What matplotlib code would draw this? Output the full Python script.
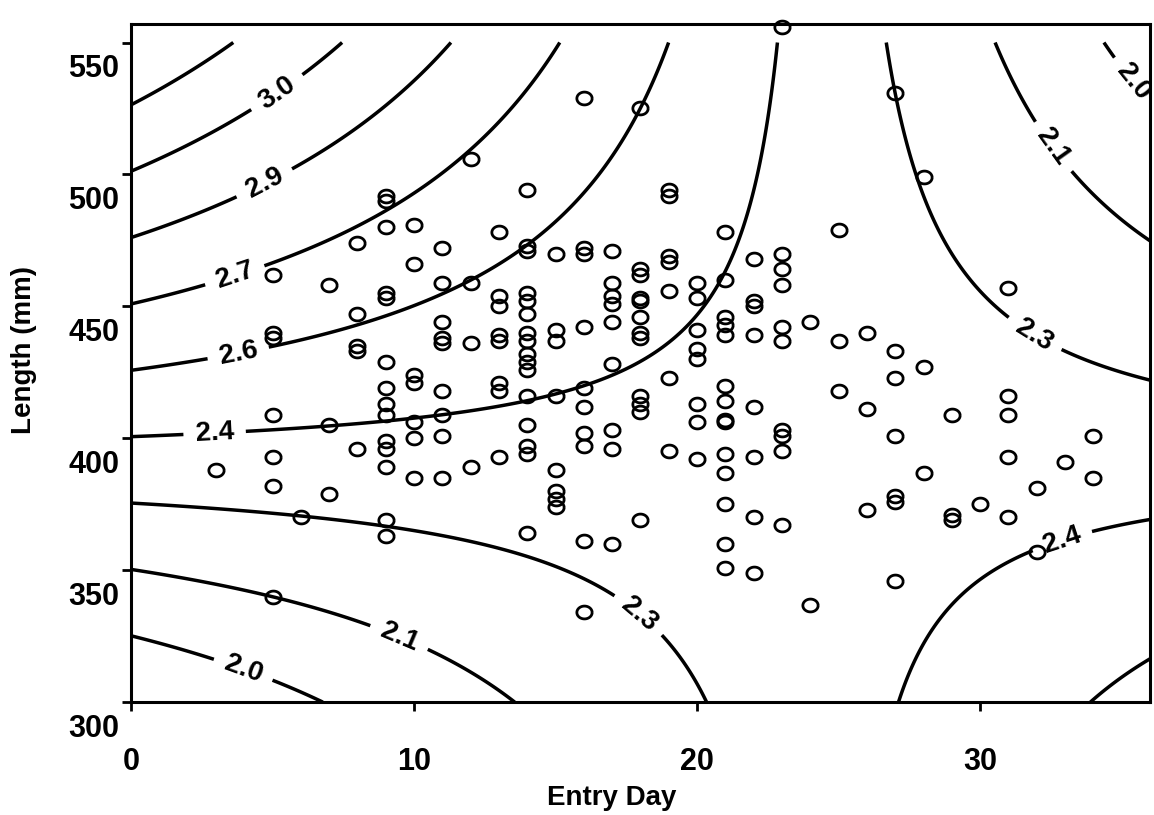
import numpy as np
import matplotlib
matplotlib.use("Agg")
import matplotlib.pyplot as plt
from matplotlib.path import Path
from matplotlib.transforms import ScaledTranslation

plt.rcParams["font.family"] = ["Liberation Sans", "DejaVu Sans"]

# Fitted response surface: index = f(entry day, length)
INTERCEPT = 1.855
DAY_COEF = 0.02139
LENGTH_COEF = 0.005765        # per mm above the reference length
INTERACTION_COEF = -0.0002364
LENGTH_REF = 300.0

contour_levels = [2.0, 2.145, 2.29, 2.435, 2.58, 2.725, 2.87, 3.015, 3.16]
labelled_levels = [2.0, 2.145, 2.29, 2.435, 2.58, 2.725, 2.87, 3.015]

# Where the inline contour labels sit (day, length)
label_days = [5.5, 5.0, 3.85, 3.85, 2.97, 35.4, 32.65, 31.9, 33.0, 17.6, 9.33, 3.85]
label_lengths = [526, 491, 456, 429, 399, 535, 511, 439, 358, 329, 321, 309]

# Individual fish: entry day and length (mm)
entry_day = [
    3,
    5, 5, 5, 5, 5, 5, 5,
    6,
    7, 7, 7,
    8, 8, 8, 8, 8,
    9, 9, 9, 9, 9, 9, 9, 9, 9, 9, 9, 9, 9, 9,
    10, 10, 10, 10, 10, 10, 10,
    11, 11, 11, 11, 11, 11, 11, 11, 11,
    12, 12, 12, 12,
    13, 13, 13, 13, 13, 13, 13, 13,
    14, 14, 14, 14, 14, 14, 14, 14, 14, 14, 14, 14, 14, 14, 14, 14,
    15, 15, 15, 15, 15, 15, 15, 15,
    16, 16, 16, 16, 16, 16, 16, 16, 16, 16,
    17, 17, 17, 17, 17, 17, 17, 17, 17,
    18, 18, 18, 18, 18, 18, 18, 18, 18, 18, 18, 18,
    19, 19, 19, 19, 19, 19, 19,
    20, 20, 20, 20, 20, 20, 20, 20,
    21, 21, 21, 21, 21, 21, 21, 21, 21, 21, 21, 21, 21, 21,
    22, 22, 22, 22, 22, 22, 22, 22,
    23, 23, 23, 23, 23, 23, 23, 23, 23, 23,
    24, 24,
    25, 25, 25,
    26, 26, 26,
    27, 27, 27, 27, 27, 27, 27,
    28, 28, 28,
    29, 29, 29,
    30,
    31, 31, 31, 31, 31,
    32, 32,
    33,
    34, 34,
]
length_mm = [
    388,
    462, 440, 438, 409, 393, 382, 340,
    370,
    458, 405, 379,
    474, 447, 435, 433, 396,
    492, 490, 480, 455, 453, 429, 419, 413, 409, 399, 396, 389, 369, 363,
    481, 466, 424, 421, 406, 400, 385,
    472, 459, 444, 438, 436, 418, 409, 401, 385,
    506, 459, 436, 389,
    478, 454, 450, 439, 437, 421, 418, 393,
    494, 473, 471, 455, 452, 447, 440, 437, 432, 429, 426, 416, 405, 397, 394, 364,
    470, 441, 437, 416, 388, 380, 377, 374,
    529, 472, 470, 442, 419, 412, 402, 397, 361, 334,
    471, 459, 454, 451, 444, 428, 403, 396, 360,
    525, 464, 462, 453, 452, 446, 440, 438, 416, 413, 410, 369,
    494, 492, 469, 467, 456, 423, 395,
    459, 453, 441, 434, 430, 413, 406, 392,
    478, 460, 446, 443, 439, 420, 414, 407, 406, 394, 387, 375, 360, 351,
    468, 452, 450, 439, 412, 393, 370, 349,
    556, 470, 464, 458, 442, 437, 403, 401, 395, 367,
    444, 337,
    479, 437, 418,
    440, 411, 373,
    531, 433, 423, 401, 378, 376, 346,
    499, 427, 387,
    409, 371, 369,
    375,
    457, 416, 409, 393, 370,
    381, 357,
    391,
    401, 385,
]

x_ticks = [0, 10, 20, 30]
y_ticks = [300, 350, 400, 450, 500, 550]

fig = plt.figure(figsize=(11.54, 8.15), dpi=100)
ax = fig.add_axes([0.1135, 0.1385, 0.883, 0.832])

# Response surface evaluated over the design region
day_grid, len_grid = np.meshgrid(np.linspace(0, 36, 300), np.linspace(300, 550, 300))
dl = len_grid - LENGTH_REF
surface = INTERCEPT + DAY_COEF * day_grid + LENGTH_COEF * dl + INTERACTION_COEF * day_grid * dl

cs = ax.contour(day_grid, len_grid, surface, levels=contour_levels,
                colors="black", linewidths=2.5)
texts = ax.clabel(cs, levels=labelled_levels, fmt="%.1f", inline=True,
                  inline_spacing=12, fontsize=20,
                  manual=list(zip(label_days, label_lengths)))
for t in texts:
    t.set_fontweight("bold")

# Open elliptical markers for the individual fish
theta = np.linspace(0, 2 * np.pi, 64)
oval = Path(np.column_stack([np.cos(theta), 0.84 * np.sin(theta)]))
ax.plot(entry_day, length_mm, linestyle="none", marker=oval, markersize=11,
        markerfacecolor="none", markeredgecolor="black", markeredgewidth=2.0,
        clip_on=False, zorder=3)

ax.set_xlim(0, 36)
ax.set_ylim(300, 557)
ax.set_xticks(x_ticks)
ax.set_yticks(y_ticks)
ax.tick_params(axis="both", direction="out", length=6.5, width=2, labelsize=22)
ax.tick_params(axis="x", pad=26)
ax.tick_params(axis="y", pad=2)
for lbl in ax.get_xticklabels() + ax.get_yticklabels():
    lbl.set_fontweight("bold")
for tick in ax.yaxis.get_major_ticks():
    tick.label1.set_transform(tick.label1.get_transform()
                              + ScaledTranslation(0, -0.23, fig.dpi_scale_trans))
for sp in ax.spines.values():
    sp.set_linewidth(2.2)

ax.set_xlabel("Entry Day", fontsize=20, fontweight="bold")
ax.set_ylabel("Length (mm)", fontsize=20, fontweight="bold")
ax.xaxis.set_label_coords(0.472, -0.122)
ax.yaxis.set_label_coords(-0.092, 0.519)

fig.savefig("out.png", dpi=100, facecolor="white")
